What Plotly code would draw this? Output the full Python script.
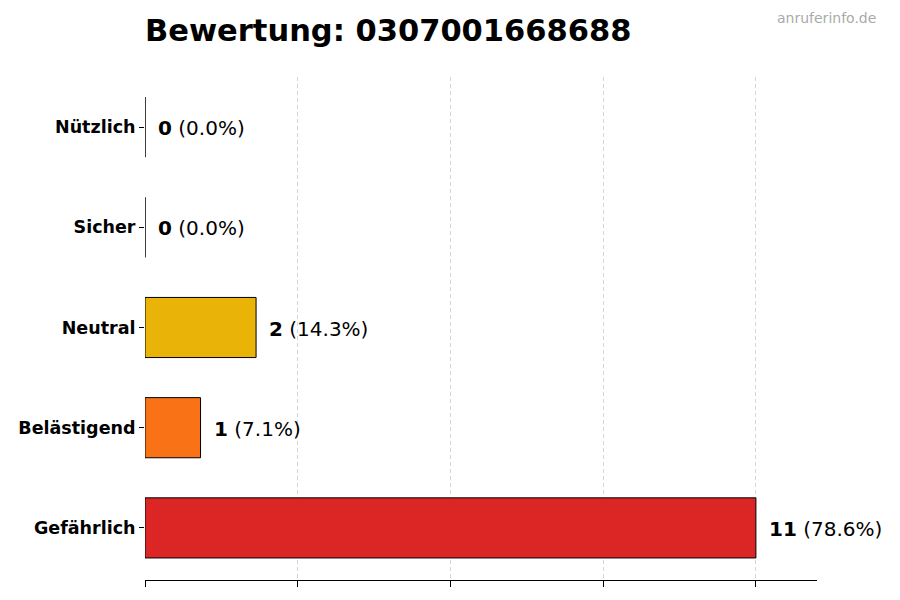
import plotly.graph_objects as go

categories = ["Gefährlich", "Belästigend", "Neutral", "Sicher", "Nützlich"]
counts = [11, 1, 2, 0, 0]
percents = [78.6, 7.1, 14.3, 0.0, 0.0]
bar_colors = ["#dc2626", "#f97316", "#eab308", "#9ca3af", "#16a34a"]
grid_ticks = [0, 2.75, 5.5, 8.25, 11]

FONT = "DejaVu Sans"
# page body has an 8px margin, so the figure is a bit smaller than the window
W, H = 892, 592

fig = go.Figure()
fig.add_trace(go.Bar(
    x=counts,
    y=categories,
    orientation="h",
    width=0.6,
    marker=dict(color=bar_colors, line=dict(color="black", width=1)),
    hoverinfo="skip",
))

# value labels next to each bar
for cat, n, p in zip(categories, counts, percents):
    fig.add_annotation(
        x=n, y=cat, xref="x", yref="y",
        text=f"<b>{n}</b> ({p:.1f}%)",
        showarrow=False, xanchor="left", yanchor="middle", xshift=11, yshift=-1,
        font=dict(family=FONT, size=20, color="black"),
    )

# watermark, top right corner of the page
fig.add_annotation(
    x=1.0, y=1.0, xref="paper", yref="paper", text="anruferinfo.de",
    showarrow=False, xanchor="right", yanchor="middle",
    xshift=61, yshift=59,
    font=dict(family=FONT, size=14, color="#aaaaaa"),
)

fig.update_layout(
    width=W, height=H,
    margin=dict(l=137, r=83, t=69, b=20, autoexpand=False),
    plot_bgcolor="white", paper_bgcolor="white",
    showlegend=False,
    title=dict(
        text="<b>Bewertung: 0307001668688</b>",
        xref="container", yref="container",
        x=137 / W, xanchor="left", y=1 - 22 / H, yanchor="middle",
        font=dict(family=FONT, size=30.5, color="black"),
    ),
)
fig.update_xaxes(
    range=[0, 12.1], tickvals=grid_ticks, showticklabels=False,
    ticks="outside", ticklen=6, tickcolor="black",
    showgrid=True, gridcolor="#d6d6d6", griddash="4px,3px", gridwidth=1,
    showline=True, linecolor="black", linewidth=1, zeroline=False,
    layer="above traces", automargin=False,
)
fig.update_yaxes(
    range=[-0.52, 4.5],
    tickvals=categories,
    ticktext=[f"<b>{c}</b>" for c in categories],
    ticks="outside", ticklen=5, tickcolor="black", ticklabelstandoff=0,
    tickfont=dict(family=FONT, size=17.5, color="black"),
    showgrid=False, showline=False, zeroline=False, automargin=False,
)

fig.write_html("out.html")
